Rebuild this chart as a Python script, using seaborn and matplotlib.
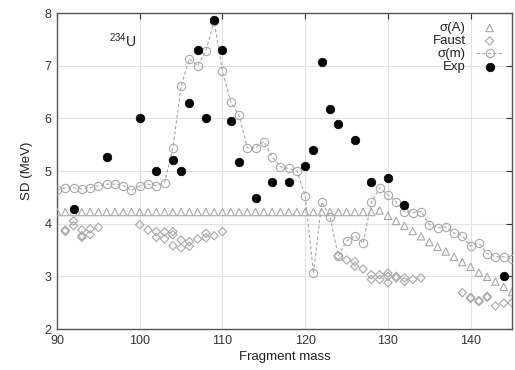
import numpy as np
import pandas as pd
import matplotlib
matplotlib.use("Agg")
import matplotlib.pyplot as plt
import seaborn as sns

# ---- data ----
sigA_mass = list(range(90, 146))
sigA_sd = [4.22] * 39 + [4.25, 4.15, 4.05, 3.96, 3.86, 3.76, 3.65, 3.56, 3.47,
                         3.37, 3.27, 3.18, 3.07, 2.99, 2.90, 2.80, 2.70]

sigm_mass = list(range(90, 146))
sigm_sd = [4.63, 4.68, 4.68, 4.66, 4.68, 4.72, 4.75, 4.75, 4.72, 4.63,
           4.72, 4.75, 4.72, 4.78, 5.43, 6.61, 7.13, 7.00, 7.28, 7.85,
           6.89, 6.31, 6.06, 5.44, 5.44, 5.56, 5.27, 5.08, 5.05, 5.00,
           4.53, 3.06, 4.41, 4.13, 3.39, 3.67, 3.77, 3.63, 4.41, 4.68,
           4.55, 4.41, 4.23, 4.21, 4.23, 3.98, 3.92, 3.94, 3.82, 3.77,
           3.57, 3.63, 3.43, 3.37, 3.37, 3.33]

faust_mass = [91, 91, 92, 92, 93, 93, 93, 94, 94, 95,
              100, 101, 102, 102, 103, 103, 104, 104, 104, 105, 105,
              106, 106, 107, 108, 108, 109, 110,
              124, 125, 126, 126, 127, 128, 128, 129, 129, 130, 130, 130,
              131, 131, 132, 132, 133, 134,
              139, 140, 140, 141, 141, 142, 142, 143, 144, 145]
faust_sd = [3.88, 3.85, 4.05, 3.96, 3.88, 3.77, 3.74, 3.90, 3.79, 3.93,
            3.98, 3.88, 3.85, 3.74, 3.84, 3.71, 3.85, 3.79, 3.58, 3.69, 3.54,
            3.66, 3.57, 3.71, 3.82, 3.73, 3.77, 3.85,
            3.39, 3.31, 3.28, 3.19, 3.14, 3.03, 2.94, 3.03, 2.94, 3.06, 3.00, 2.88,
            3.00, 2.97, 2.97, 2.90, 2.94, 2.97,
            2.69, 2.60, 2.58, 2.54, 2.52, 2.62, 2.60, 2.44, 2.49, 2.50]

exp_mass = [92, 96, 100, 102, 104, 105, 106, 107, 108, 109, 110, 111, 112,
            114, 116, 118, 120, 121, 122, 123, 124, 126, 128, 130, 132, 144]
exp_sd = [4.28, 5.27, 6.00, 5.00, 5.20, 5.00, 6.30, 7.30, 6.00, 7.87, 7.30,
          5.95, 5.17, 4.48, 4.80, 4.80, 5.10, 5.40, 7.07, 6.17, 5.90, 5.59,
          4.80, 4.86, 4.36, 3.00]

x_ticks = [90, 100, 110, 120, 130, 140]
y_ticks = [2, 3, 4, 5, 6, 7, 8]

# ---- style ----
sns.set_style("white")
plt.rcParams['font.family'] = ['Liberation Sans', 'DejaVu Sans']
plt.rcParams['mathtext.fontset'] = 'custom'
plt.rcParams['mathtext.rm'] = 'Liberation Sans'

fig = plt.figure(figsize=(5.15, 3.70), dpi=100)
ax = fig.add_axes([57/515, 1 - 329/370, (512-57)/515, (329-13)/370])

gray = "#a8a8a8"

dfA = pd.DataFrame({"mass": sigA_mass, "sd": sigA_sd})
dfm = pd.DataFrame({"mass": sigm_mass, "sd": sigm_sd})
dfF = pd.DataFrame({"mass": faust_mass, "sd": faust_sd})
dfE = pd.DataFrame({"mass": exp_mass, "sd": exp_sd})

sns.scatterplot(data=dfA, x="mass", y="sd", ax=ax, marker="^", s=28,
                facecolor="none", edgecolor=gray, linewidth=0.8,
                label="σ(A)", clip_on=True, zorder=3)
sns.scatterplot(data=dfF, x="mass", y="sd", ax=ax, marker="D", s=18,
                facecolor="none", edgecolor=gray, linewidth=0.8,
                label="Faust", zorder=3)
sns.lineplot(data=dfm, x="mass", y="sd", ax=ax, color=gray, linestyle=(0, (3, 2)),
             linewidth=0.8, marker="o", markersize=6, markerfacecolor="none",
             markeredgecolor=gray, markeredgewidth=0.8, label="σ(m)",
             estimator=None, sort=False, zorder=3)
sns.scatterplot(data=dfE, x="mass", y="sd", ax=ax, marker="o", s=38,
                color="black", edgecolor="black", linewidth=0.5,
                label="Exp", zorder=4)

ax.set_xlim(90, 145)
ax.set_ylim(2, 8)
ax.set_xticks(x_ticks)
ax.set_yticks(y_ticks)
ax.grid(True, color="#e2e2e2", linewidth=0.8)
ax.set_axisbelow(True)
ax.tick_params(direction="in", length=4, width=0.8, top=True, right=True,
               labelsize=9, colors="#333333", pad=4)
ax.tick_params(axis="x", labelcolor="#333333")
for sp in ax.spines.values():
    sp.set_color("#555555")
    sp.set_linewidth(1.0)

ax.set_xlabel("Fragment mass", fontsize=9.5, color="#222222", labelpad=3)
ax.set_ylabel("SD (MeV)", fontsize=9.5, color="#222222", labelpad=8)

ax.text(96.3, 7.35, r"$^{234}$U", fontsize=10, color="#222222")

leg = ax.legend(loc="upper right", markerfirst=False, frameon=False,
                fontsize=9.5, handlelength=2.0, handletextpad=0.8,
                labelspacing=0.05, borderaxespad=0.3)
for t in leg.get_texts():
    t.set_ha("right")
    t.set_color("#222222")

fig.savefig("out.png", dpi=100)
